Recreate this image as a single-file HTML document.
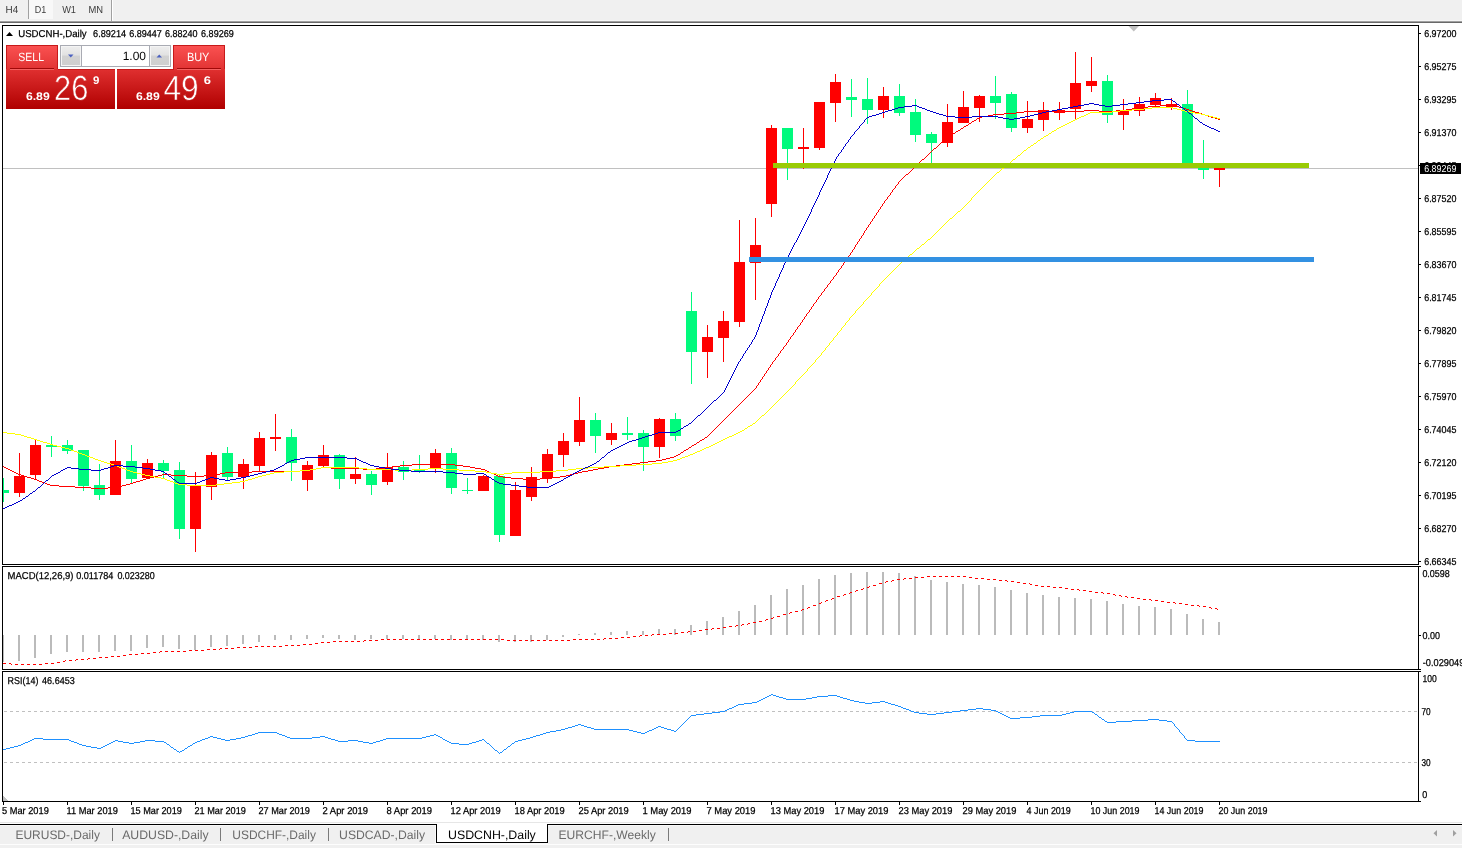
<!DOCTYPE html>
<html lang="en"><head><meta charset="utf-8"><title>USDCNH-,Daily</title>
<style>html,body{margin:0;padding:0;background:#fff;overflow:hidden}body{width:1462px;height:848px}svg text{white-space:pre}</style></head>
<body>
<svg width="1462" height="848" viewBox="0 0 1462 848" style="display:block" text-rendering="geometricPrecision" font-family='"Liberation Sans", "DejaVu Sans", sans-serif'>
<defs><linearGradient id="gtab" x1="0" y1="0" x2="0" y2="1"><stop offset="0" stop-color="#FB5252"/><stop offset="1" stop-color="#E23434"/></linearGradient><linearGradient id="gpan" x1="0" y1="0" x2="0" y2="1"><stop offset="0" stop-color="#E03030"/><stop offset="1" stop-color="#B00000"/></linearGradient><linearGradient id="gbtn" x1="0" y1="0" x2="0" y2="1"><stop offset="0" stop-color="#EDEDED"/><stop offset="0.45" stop-color="#E2E2E2"/><stop offset="0.5" stop-color="#D2D2D2"/><stop offset="1" stop-color="#CFCFCF"/></linearGradient><linearGradient id="gpu" gradientUnits="userSpaceOnUse" x1="0" y1="69" x2="0" y2="109"><stop offset="0" stop-color="#E03030"/><stop offset="1" stop-color="#B00000"/></linearGradient><clipPath id="cm"><rect x="3" y="26" width="1415" height="538"/></clipPath></defs>
<rect x="0" y="0" width="1462" height="848" fill="#ffffff"/>
<g shape-rendering="crispEdges">
<rect x="0" y="0" width="1462" height="20" fill="#f0f0f0"/>
<rect x="0" y="20" width="1462" height="1" fill="#f6f6f6"/>
<rect x="0" y="21" width="1462" height="1" fill="#a0a0a0"/>
<rect x="0" y="22" width="1462" height="1" fill="#696969"/>
<rect x="29" y="0" width="24" height="19" fill="#f8f8f8"/>
<rect x="28" y="0" width="1" height="19" fill="#a0a0a0"/>
<rect x="111" y="0" width="1" height="21" fill="#a0a0a0"/>
<rect x="112" y="0" width="1" height="21" fill="#ffffff"/>
</g>
<text x="5.5" y="13" font-size="10.2" fill="#3c3c3c" textLength="12.7" lengthAdjust="spacingAndGlyphs" >H4</text>
<text x="34.7" y="13" font-size="10.2" fill="#3c3c3c" textLength="11.5" lengthAdjust="spacingAndGlyphs" >D1</text>
<text x="62.2" y="13" font-size="10.2" fill="#3c3c3c" textLength="13.8" lengthAdjust="spacingAndGlyphs" >W1</text>
<text x="88.5" y="13" font-size="10.2" fill="#3c3c3c" textLength="14.6" lengthAdjust="spacingAndGlyphs" >MN</text>
<g shape-rendering="crispEdges" fill="#000">
<rect x="2" y="25" width="1417" height="1"/>
<rect x="2" y="564" width="1417" height="1"/>
<rect x="2" y="25" width="1" height="540"/>
<rect x="1418" y="25" width="1" height="540"/>
<rect x="2" y="566" width="1417" height="1"/>
<rect x="2" y="669" width="1417" height="1"/>
<rect x="2" y="566" width="1" height="104"/>
<rect x="1418" y="566" width="1" height="104"/>
<rect x="2" y="671" width="1417" height="1"/>
<rect x="2" y="801" width="1417" height="1"/>
<rect x="2" y="671" width="1" height="131"/>
<rect x="1418" y="671" width="1" height="131"/>
</g>
<g shape-rendering="crispEdges" clip-path="url(#cm)">
<rect x="3" y="168" width="1415" height="1" fill="#c0c0c0"/>
<rect x="3" y="478" width="1" height="24" fill="#00FA7D"/>
<rect x="-2" y="490" width="11" height="3" fill="#00FA7D"/>
<rect x="19" y="453" width="1" height="44" fill="#FF0000"/>
<rect x="14" y="476" width="11" height="17" fill="#FF0000"/>
<rect x="35" y="440" width="1" height="40" fill="#FF0000"/>
<rect x="30" y="445" width="11" height="30" fill="#FF0000"/>
<rect x="51" y="436" width="1" height="21" fill="#00FA7D"/>
<rect x="46" y="445" width="11" height="2" fill="#00FA7D"/>
<rect x="67" y="440" width="1" height="14" fill="#00FA7D"/>
<rect x="62" y="445" width="11" height="6" fill="#00FA7D"/>
<rect x="83" y="450" width="1" height="41" fill="#00FA7D"/>
<rect x="78" y="450" width="11" height="36" fill="#00FA7D"/>
<rect x="99" y="464" width="1" height="36" fill="#00FA7D"/>
<rect x="94" y="485" width="11" height="10" fill="#00FA7D"/>
<rect x="115" y="440" width="1" height="55" fill="#FF0000"/>
<rect x="110" y="461" width="11" height="34" fill="#FF0000"/>
<rect x="131" y="445" width="1" height="38" fill="#00FA7D"/>
<rect x="126" y="461" width="11" height="18" fill="#00FA7D"/>
<rect x="147" y="459" width="1" height="19" fill="#FF0000"/>
<rect x="142" y="463" width="11" height="15" fill="#FF0000"/>
<rect x="163" y="460" width="1" height="19" fill="#00FA7D"/>
<rect x="158" y="463" width="11" height="8" fill="#00FA7D"/>
<rect x="179" y="462" width="1" height="77" fill="#00FA7D"/>
<rect x="174" y="470" width="11" height="59" fill="#00FA7D"/>
<rect x="195" y="472" width="1" height="80" fill="#FF0000"/>
<rect x="190" y="486" width="11" height="43" fill="#FF0000"/>
<rect x="211" y="452" width="1" height="48" fill="#FF0000"/>
<rect x="206" y="455" width="11" height="32" fill="#FF0000"/>
<rect x="227" y="447" width="1" height="33" fill="#00FA7D"/>
<rect x="222" y="453" width="11" height="24" fill="#00FA7D"/>
<rect x="243" y="459" width="1" height="30" fill="#FF0000"/>
<rect x="238" y="464" width="11" height="13" fill="#FF0000"/>
<rect x="259" y="432" width="1" height="40" fill="#FF0000"/>
<rect x="254" y="438" width="11" height="28" fill="#FF0000"/>
<rect x="275" y="414" width="1" height="37" fill="#FF0000"/>
<rect x="270" y="437" width="11" height="2" fill="#FF0000"/>
<rect x="291" y="429" width="1" height="52" fill="#00FA7D"/>
<rect x="286" y="437" width="11" height="26" fill="#00FA7D"/>
<rect x="307" y="461" width="1" height="30" fill="#FF0000"/>
<rect x="302" y="465" width="11" height="15" fill="#FF0000"/>
<rect x="323" y="445" width="1" height="22" fill="#FF0000"/>
<rect x="318" y="455" width="11" height="11" fill="#FF0000"/>
<rect x="339" y="454" width="1" height="35" fill="#00FA7D"/>
<rect x="334" y="455" width="11" height="24" fill="#00FA7D"/>
<rect x="355" y="457" width="1" height="27" fill="#FF0000"/>
<rect x="350" y="474" width="11" height="5" fill="#FF0000"/>
<rect x="371" y="471" width="1" height="24" fill="#00FA7D"/>
<rect x="366" y="474" width="11" height="11" fill="#00FA7D"/>
<rect x="387" y="453" width="1" height="32" fill="#FF0000"/>
<rect x="382" y="467" width="11" height="15" fill="#FF0000"/>
<rect x="403" y="461" width="1" height="19" fill="#00FA7D"/>
<rect x="398" y="467" width="11" height="5" fill="#00FA7D"/>
<rect x="419" y="455" width="1" height="18" fill="#00FA7D"/>
<rect x="414" y="469" width="11" height="2" fill="#00FA7D"/>
<rect x="435" y="449" width="1" height="24" fill="#FF0000"/>
<rect x="430" y="453" width="11" height="16" fill="#FF0000"/>
<rect x="451" y="448" width="1" height="46" fill="#00FA7D"/>
<rect x="446" y="453" width="11" height="35" fill="#00FA7D"/>
<rect x="467" y="478" width="1" height="16" fill="#00FA7D"/>
<rect x="462" y="490" width="11" height="1" fill="#00FA7D"/>
<rect x="483" y="475" width="1" height="16" fill="#FF0000"/>
<rect x="478" y="476" width="11" height="15" fill="#FF0000"/>
<rect x="499" y="474" width="1" height="68" fill="#00FA7D"/>
<rect x="494" y="476" width="11" height="59" fill="#00FA7D"/>
<rect x="515" y="482" width="1" height="54" fill="#FF0000"/>
<rect x="510" y="490" width="11" height="46" fill="#FF0000"/>
<rect x="531" y="467" width="1" height="34" fill="#FF0000"/>
<rect x="526" y="477" width="11" height="20" fill="#FF0000"/>
<rect x="547" y="449" width="1" height="34" fill="#FF0000"/>
<rect x="542" y="454" width="11" height="24" fill="#FF0000"/>
<rect x="563" y="433" width="1" height="34" fill="#FF0000"/>
<rect x="558" y="441" width="11" height="14" fill="#FF0000"/>
<rect x="579" y="397" width="1" height="49" fill="#FF0000"/>
<rect x="574" y="420" width="11" height="22" fill="#FF0000"/>
<rect x="595" y="413" width="1" height="40" fill="#00FA7D"/>
<rect x="590" y="420" width="11" height="16" fill="#00FA7D"/>
<rect x="611" y="423" width="1" height="22" fill="#FF0000"/>
<rect x="606" y="433" width="11" height="7" fill="#FF0000"/>
<rect x="627" y="417" width="1" height="23" fill="#00FA7D"/>
<rect x="622" y="433" width="11" height="2" fill="#00FA7D"/>
<rect x="643" y="430" width="1" height="41" fill="#00FA7D"/>
<rect x="638" y="433" width="11" height="14" fill="#00FA7D"/>
<rect x="659" y="418" width="1" height="40" fill="#FF0000"/>
<rect x="654" y="419" width="11" height="28" fill="#FF0000"/>
<rect x="675" y="413" width="1" height="28" fill="#00FA7D"/>
<rect x="670" y="419" width="11" height="17" fill="#00FA7D"/>
<rect x="691" y="292" width="1" height="92" fill="#00FA7D"/>
<rect x="686" y="311" width="11" height="41" fill="#00FA7D"/>
<rect x="707" y="325" width="1" height="53" fill="#FF0000"/>
<rect x="702" y="337" width="11" height="15" fill="#FF0000"/>
<rect x="723" y="311" width="1" height="51" fill="#FF0000"/>
<rect x="718" y="321" width="11" height="17" fill="#FF0000"/>
<rect x="739" y="220" width="1" height="107" fill="#FF0000"/>
<rect x="734" y="262" width="11" height="60" fill="#FF0000"/>
<rect x="755" y="218" width="1" height="82" fill="#FF0000"/>
<rect x="750" y="245" width="11" height="18" fill="#FF0000"/>
<rect x="771" y="125" width="1" height="92" fill="#FF0000"/>
<rect x="766" y="128" width="11" height="76" fill="#FF0000"/>
<rect x="787" y="128" width="1" height="52" fill="#00FA7D"/>
<rect x="782" y="128" width="11" height="21" fill="#00FA7D"/>
<rect x="803" y="128" width="1" height="41" fill="#FF0000"/>
<rect x="798" y="147" width="11" height="2" fill="#FF0000"/>
<rect x="819" y="102" width="1" height="48" fill="#FF0000"/>
<rect x="814" y="102" width="11" height="46" fill="#FF0000"/>
<rect x="835" y="74" width="1" height="48" fill="#FF0000"/>
<rect x="830" y="82" width="11" height="21" fill="#FF0000"/>
<rect x="851" y="79" width="1" height="38" fill="#00FA7D"/>
<rect x="846" y="97" width="11" height="3" fill="#00FA7D"/>
<rect x="867" y="78" width="1" height="46" fill="#00FA7D"/>
<rect x="862" y="99" width="11" height="11" fill="#00FA7D"/>
<rect x="883" y="87" width="1" height="31" fill="#FF0000"/>
<rect x="878" y="96" width="11" height="14" fill="#FF0000"/>
<rect x="899" y="84" width="1" height="32" fill="#00FA7D"/>
<rect x="894" y="96" width="11" height="17" fill="#00FA7D"/>
<rect x="915" y="99" width="1" height="43" fill="#00FA7D"/>
<rect x="910" y="112" width="11" height="23" fill="#00FA7D"/>
<rect x="931" y="132" width="1" height="33" fill="#00FA7D"/>
<rect x="926" y="134" width="11" height="9" fill="#00FA7D"/>
<rect x="947" y="104" width="1" height="43" fill="#FF0000"/>
<rect x="942" y="122" width="11" height="21" fill="#FF0000"/>
<rect x="963" y="91" width="1" height="32" fill="#FF0000"/>
<rect x="958" y="107" width="11" height="16" fill="#FF0000"/>
<rect x="979" y="95" width="1" height="27" fill="#FF0000"/>
<rect x="974" y="96" width="11" height="12" fill="#FF0000"/>
<rect x="995" y="76" width="1" height="43" fill="#00FA7D"/>
<rect x="990" y="96" width="11" height="7" fill="#00FA7D"/>
<rect x="1011" y="92" width="1" height="40" fill="#00FA7D"/>
<rect x="1006" y="94" width="11" height="34" fill="#00FA7D"/>
<rect x="1027" y="101" width="1" height="32" fill="#FF0000"/>
<rect x="1022" y="119" width="11" height="9" fill="#FF0000"/>
<rect x="1043" y="102" width="1" height="29" fill="#FF0000"/>
<rect x="1038" y="110" width="11" height="10" fill="#FF0000"/>
<rect x="1059" y="102" width="1" height="18" fill="#FF0000"/>
<rect x="1054" y="110" width="11" height="3" fill="#FF0000"/>
<rect x="1075" y="52" width="1" height="68" fill="#FF0000"/>
<rect x="1070" y="83" width="11" height="26" fill="#FF0000"/>
<rect x="1091" y="57" width="1" height="35" fill="#FF0000"/>
<rect x="1086" y="81" width="11" height="5" fill="#FF0000"/>
<rect x="1107" y="75" width="1" height="48" fill="#00FA7D"/>
<rect x="1102" y="81" width="11" height="34" fill="#00FA7D"/>
<rect x="1123" y="99" width="1" height="31" fill="#FF0000"/>
<rect x="1118" y="110" width="11" height="5" fill="#FF0000"/>
<rect x="1139" y="97" width="1" height="19" fill="#FF0000"/>
<rect x="1134" y="104" width="11" height="7" fill="#FF0000"/>
<rect x="1155" y="93" width="1" height="14" fill="#FF0000"/>
<rect x="1150" y="98" width="11" height="7" fill="#FF0000"/>
<rect x="1171" y="98" width="1" height="12" fill="#FF0000"/>
<rect x="1166" y="104" width="11" height="3" fill="#FF0000"/>
<rect x="1187" y="90" width="1" height="75" fill="#00FA7D"/>
<rect x="1182" y="104" width="11" height="61" fill="#00FA7D"/>
<rect x="1203" y="140" width="1" height="39" fill="#00FA7D"/>
<rect x="1198" y="168" width="11" height="2" fill="#00FA7D"/>
<rect x="1219" y="168" width="1" height="19" fill="#FF0000"/>
<rect x="1214" y="168" width="11" height="2" fill="#FF0000"/>
<path d="M412 464h43v1h-43zM624 464h8v1h-8zM964 126h2v1h-2zM1084 110h15v1h-15zM1116 110h10v1h-10zM1189 110h3v1h-3zM75 487h16v1h-16zM108 487h10v1h-10zM961 128h2v1h-2zM6 468h2v1h-2zM316 468h5v1h-5zM331 468h32v1h-32zM376 468h8v1h-8zM475 468h6v1h-6zM598 468h6v1h-6zM988 115h5v1h-5zM1205 115h3v1h-3zM31 478h3v1h-3zM146 478h4v1h-4zM511 478h12v1h-12zM540 478h12v1h-12zM648 461h8v1h-8zM392 466h8v1h-8zM463 466h7v1h-7zM609 466h7v1h-7zM982 116h6v1h-6zM1208 116h3v1h-3zM632 463h8v1h-8zM59 486h16v1h-16zM118 486h4v1h-4zM678 454h2v1h-2zM702 439h2v1h-2zM39 481h3v1h-3zM136 481h4v1h-4zM91 488h17v1h-17zM1160 105h8v1h-8zM1173 105h3v1h-3zM674 456h2v1h-2zM1132 108h5v1h-5zM1183 108h3v1h-3zM1004 113h12v1h-12zM1199 113h3v1h-3zM24 476h3v1h-3zM154 476h4v1h-4zM187 476h17v1h-17zM498 476h5v1h-5zM560 476h6v1h-6zM8 469h2v1h-2zM310 469h6v1h-6zM363 469h13v1h-13zM481 469h4v1h-4zM593 469h5v1h-5zM12 471h2v1h-2zM252 471h48v1h-48zM487 471h2v1h-2zM582 471h6v1h-6zM47 484h3v1h-3zM126 484h4v1h-4zM400 465h12v1h-12zM455 465h8v1h-8zM616 465h8v1h-8zM14 472h2v1h-2zM225 472h27v1h-27zM489 472h2v1h-2zM578 472h4v1h-4zM1137 107h11v1h-11zM1179 107h4v1h-4zM18 474h3v1h-3zM162 474h9v1h-9zM214 474h6v1h-6zM494 474h2v1h-2zM570 474h4v1h-4zM10 470h2v1h-2zM300 470h10v1h-10zM485 470h2v1h-2zM588 470h5v1h-5zM1016 112h8v1h-8zM1195 112h4v1h-4zM21 475h3v1h-3zM158 475h4v1h-4zM171 475h16v1h-16zM204 475h10v1h-10zM496 475h2v1h-2zM566 475h4v1h-4zM1024 111h60v1h-60zM1099 111h17v1h-17zM1192 111h3v1h-3zM1148 106h12v1h-12zM1176 106h3v1h-3zM27 477h4v1h-4zM150 477h4v1h-4zM503 477h8v1h-8zM552 477h8v1h-8zM662 459h4v1h-4zM1218 119h2v1h-2zM684 450h2v1h-2zM50 485h9v1h-9zM122 485h4v1h-4zM1168 104h5v1h-5zM4 467h2v1h-2zM321 467h10v1h-10zM384 467h8v1h-8zM470 467h5v1h-5zM604 467h5v1h-5zM953 133h2v1h-2zM694 444h2v1h-2zM34 479h3v1h-3zM143 479h3v1h-3zM523 479h17v1h-17zM922 159h2v1h-2zM640 462h8v1h-8zM1126 109h6v1h-6zM1186 109h3v1h-3zM977 118h2v1h-2zM1215 118h3v1h-3zM16 473h2v1h-2zM220 473h5v1h-5zM491 473h3v1h-3zM574 473h4v1h-4zM700 440h2v1h-2zM972 121h2v1h-2zM993 114h11v1h-11zM1202 114h3v1h-3zM979 117h3v1h-3zM1211 117h4v1h-4zM42 482h3v1h-3zM133 482h3v1h-3zM934 148h2v1h-2zM697 442h2v1h-2zM969 123h2v1h-2zM942 141h2v1h-2zM692 445h2v1h-2zM676 455h2v1h-2zM670 457h4v1h-4zM656 460h6v1h-6zM705 437h2v1h-2zM948 136h2v1h-2zM689 447h2v1h-2zM974 120h2v1h-2zM45 483h2v1h-2zM130 483h3v1h-3zM958 130h2v1h-2zM681 452h2v1h-2zM37 480h2v1h-2zM140 480h3v1h-3zM906 174h2v1h-2zM966 125h2v1h-2zM950 135h2v1h-2zM666 458h4v1h-4zM956 131h2v1h-2zM686 449h2v1h-2zM815 302h1v1h-1zM3 466h1v1h-1zM744 399h1v1h-1zM760 380h1v2h-1zM808 312h1v1h-1zM756 386h1v2h-1zM946 138h1v1h-1zM898 182h1v2h-1zM799 325h1v1h-1zM937 146h1v1h-1zM704 438h1v1h-1zM944 140h1v1h-1zM802 320h1v2h-1zM968 124h1v1h-1zM976 119h1v1h-1zM850 253h1v2h-1zM882 204h1v2h-1zM877 212h1v1h-1zM778 354h1v2h-1zM952 134h1v1h-1zM909 172h1v1h-1zM841 266h1v2h-1zM925 157h1v1h-1zM786 343h1v2h-1zM781 350h1v1h-1zM916 165h1v1h-1zM876 213h1v2h-1zM722 421h1v1h-1zM932 150h1v1h-1zM820 295h1v1h-1zM691 446h1v1h-1zM729 414h1v1h-1zM939 144h1v1h-1zM813 304h1v2h-1zM828 284h1v1h-1zM930 152h1v1h-1zM761 379h1v1h-1zM856 244h1v1h-1zM736 407h1v1h-1zM804 317h1v2h-1zM748 395h1v1h-1zM764 374h1v2h-1zM859 239h1v2h-1zM807 313h1v1h-1zM755 388h1v1h-1zM855 245h1v2h-1zM902 178h1v1h-1zM887 197h1v2h-1zM945 139h1v1h-1zM709 434h1v1h-1zM846 259h1v1h-1zM890 193h1v2h-1zM791 336h1v1h-1zM885 200h1v1h-1zM716 427h1v1h-1zM854 247h1v2h-1zM782 349h1v1h-1zM830 281h1v2h-1zM845 260h1v2h-1zM825 288h1v1h-1zM735 408h1v1h-1zM924 158h1v1h-1zM770 365h1v2h-1zM818 297h1v2h-1zM865 230h1v1h-1zM833 277h1v2h-1zM766 371h1v2h-1zM861 236h1v2h-1zM742 401h1v1h-1zM824 289h1v2h-1zM938 145h1v1h-1zM864 231h1v2h-1zM749 394h1v1h-1zM797 327h1v2h-1zM812 306h1v1h-1zM803 319h1v1h-1zM903 177h1v1h-1zM851 252h1v1h-1zM895 186h1v2h-1zM796 329h1v1h-1zM910 171h1v1h-1zM886 199h1v1h-1zM787 342h1v1h-1zM835 275h1v1h-1zM917 164h1v1h-1zM708 435h1v1h-1zM914 167h1v1h-1zM775 358h1v2h-1zM823 291h1v1h-1zM838 270h1v2h-1zM715 428h1v1h-1zM870 222h1v2h-1zM921 160h1v1h-1zM727 416h1v1h-1zM960 129h1v1h-1zM829 283h1v1h-1zM873 218h1v1h-1zM774 360h1v1h-1zM769 367h1v1h-1zM734 409h1v1h-1zM817 299h1v1h-1zM765 373h1v1h-1zM860 238h1v1h-1zM741 402h1v1h-1zM699 441h1v1h-1zM801 322h1v1h-1zM683 451h1v1h-1zM891 192h1v1h-1zM792 335h1v1h-1zM714 429h1v1h-1zM780 351h1v2h-1zM795 330h1v2h-1zM843 263h1v2h-1zM875 215h1v1h-1zM721 422h1v1h-1zM771 364h1v1h-1zM834 276h1v1h-1zM728 415h1v1h-1zM878 210h1v2h-1zM779 353h1v1h-1zM929 153h1v1h-1zM874 216h1v2h-1zM822 292h1v1h-1zM869 224h1v1h-1zM936 147h1v1h-1zM747 396h1v1h-1zM806 314h1v2h-1zM821 293h1v2h-1zM754 389h1v1h-1zM901 179h1v1h-1zM896 185h1v1h-1zM680 453h1v1h-1zM884 201h1v2h-1zM800 323h1v2h-1zM848 256h1v2h-1zM915 166h1v1h-1zM880 207h1v2h-1zM839 269h1v1h-1zM713 430h1v1h-1zM883 203h1v1h-1zM784 346h1v1h-1zM847 258h1v1h-1zM827 285h1v2h-1zM720 423h1v1h-1zM826 287h1v1h-1zM811 307h1v2h-1zM739 404h1v1h-1zM928 154h1v1h-1zM759 382h1v1h-1zM814 303h1v1h-1zM746 397h1v1h-1zM762 377h1v2h-1zM758 383h1v2h-1zM805 316h1v1h-1zM753 390h1v1h-1zM900 180h1v1h-1zM849 255h1v1h-1zM844 262h1v1h-1zM707 436h1v1h-1zM888 196h1v1h-1zM789 339h1v1h-1zM852 250h1v2h-1zM879 209h1v1h-1zM726 417h1v1h-1zM911 170h1v1h-1zM927 155h1v1h-1zM788 340h1v2h-1zM712 431h1v1h-1zM768 368h1v2h-1zM733 410h1v1h-1zM783 347h1v2h-1zM918 163h1v1h-1zM831 280h1v1h-1zM816 300h1v2h-1zM719 424h1v1h-1zM740 403h1v1h-1zM819 296h1v1h-1zM731 412h1v1h-1zM752 391h1v1h-1zM767 370h1v1h-1zM810 309h1v1h-1zM738 405h1v1h-1zM858 241h1v1h-1zM963 127h1v1h-1zM893 189h1v1h-1zM794 332h1v1h-1zM809 310h1v2h-1zM908 173h1v1h-1zM947 137h1v1h-1zM757 385h1v1h-1zM857 242h1v2h-1zM790 337h1v2h-1zM899 181h1v1h-1zM785 345h1v1h-1zM688 448h1v1h-1zM892 190h1v2h-1zM912 169h1v1h-1zM793 333h1v2h-1zM773 361h1v1h-1zM718 425h1v1h-1zM868 225h1v2h-1zM832 279h1v1h-1zM725 418h1v1h-1zM926 156h1v1h-1zM772 362h1v2h-1zM732 411h1v1h-1zM867 227h1v1h-1zM763 376h1v1h-1zM863 233h1v2h-1zM933 149h1v1h-1zM696 443h1v1h-1zM940 143h1v1h-1zM751 392h1v1h-1zM866 228h1v2h-1zM889 195h1v1h-1zM905 175h1v1h-1zM853 249h1v1h-1zM897 184h1v1h-1zM919 162h1v1h-1zM837 272h1v1h-1zM710 433h1v1h-1zM777 356h1v1h-1zM840 268h1v1h-1zM717 426h1v1h-1zM872 219h1v2h-1zM836 273h1v2h-1zM724 419h1v1h-1zM745 398h1v1h-1zM941 142h1v1h-1zM894 188h1v1h-1zM862 235h1v1h-1zM743 400h1v1h-1zM750 393h1v1h-1zM798 326h1v1h-1zM913 168h1v1h-1zM842 265h1v1h-1zM904 176h1v1h-1zM971 122h1v1h-1zM920 161h1v1h-1zM881 206h1v1h-1zM711 432h1v1h-1zM955 132h1v1h-1zM723 420h1v1h-1zM730 413h1v1h-1zM776 357h1v1h-1zM931 151h1v1h-1zM871 221h1v1h-1zM737 406h1v1h-1z" fill="#FF0000"/>
<path d="M165 479h2v1h-2zM248 479h4v1h-4zM125 469h2v1h-2zM310 469h6v1h-6zM367 469h28v1h-28zM412 469h16v1h-16zM443 469h16v1h-16zM568 469h8v1h-8zM122 468h3v1h-3zM316 468h5v1h-5zM359 468h8v1h-8zM428 468h15v1h-15zM576 468h12v1h-12zM1112 111h8v1h-8zM1185 111h5v1h-5zM7 433h8v1h-8zM736 433h2v1h-2zM127 470h3v1h-3zM300 470h10v1h-10zM395 470h17v1h-17zM459 470h16v1h-16zM556 470h12v1h-12zM1084 115h2v1h-2zM1205 115h4v1h-4zM173 482h2v1h-2zM232 482h8v1h-8zM187 485h29v1h-29zM61 447h4v1h-4zM706 447h3v1h-3zM117 466h2v1h-2zM604 466h16v1h-16zM133 472h4v1h-4zM274 472h10v1h-10zM486 472h5v1h-5zM512 472h28v1h-28zM997 172h2v1h-2zM47 443h3v1h-3zM715 443h2v1h-2zM1067 123h2v1h-2zM111 464h3v1h-3zM636 464h16v1h-16zM119 467h3v1h-3zM321 467h38v1h-38zM588 467h16v1h-16zM130 471h3v1h-3zM284 471h16v1h-16zM475 471h11v1h-11zM540 471h16v1h-16zM155 477h6v1h-6zM255 477h3v1h-3zM1152 107h21v1h-21zM1120 110h12v1h-12zM1181 110h4v1h-4zM15 434h6v1h-6zM734 434h2v1h-2zM902 261h2v1h-2zM79 453h3v1h-3zM693 453h2v1h-2zM40 441h3v1h-3zM719 441h2v1h-2zM71 450h3v1h-3zM700 450h2v1h-2zM145 475h5v1h-5zM262 475h4v1h-4zM74 451h3v1h-3zM697 451h3v1h-3zM1090 112h22v1h-22zM1190 112h5v1h-5zM3 432h4v1h-4zM738 432h2v1h-2zM762 415h2v1h-2zM50 444h3v1h-3zM713 444h2v1h-2zM1069 122h2v1h-2zM170 481h3v1h-3zM240 481h5v1h-5zM1088 113h2v1h-2zM1195 113h6v1h-6zM161 478h4v1h-4zM252 478h3v1h-3zM1031 145h2v1h-2zM82 454h3v1h-3zM690 454h3v1h-3zM1081 116h3v1h-3zM1209 116h4v1h-4zM107 463h4v1h-4zM652 463h10v1h-10zM740 431h2v1h-2zM137 473h4v1h-4zM270 473h4v1h-4zM491 473h6v1h-6zM504 473h8v1h-8zM1144 108h8v1h-8zM1173 108h4v1h-4zM93 458h2v1h-2zM680 458h2v1h-2zM150 476h5v1h-5zM258 476h4v1h-4zM1061 126h2v1h-2zM114 465h3v1h-3zM620 465h16v1h-16zM1057 128h2v1h-2zM90 457h3v1h-3zM682 457h3v1h-3zM95 459h3v1h-3zM677 459h3v1h-3zM1018 155h2v1h-2zM21 435h3v1h-3zM732 435h2v1h-2zM1041 138h2v1h-2zM178 484h9v1h-9zM216 484h8v1h-8zM37 440h3v1h-3zM721 440h2v1h-2zM104 462h3v1h-3zM662 462h6v1h-6zM141 474h4v1h-4zM266 474h4v1h-4zM497 474h7v1h-7zM167 480h3v1h-3zM245 480h3v1h-3zM1024 150h2v1h-2zM950 218h2v1h-2zM1132 109h12v1h-12zM1177 109h4v1h-4zM43 442h4v1h-4zM717 442h2v1h-2zM27 437h4v1h-4zM727 437h2v1h-2zM1077 118h2v1h-2zM1217 118h3v1h-3zM922 244h2v1h-2zM1086 114h2v1h-2zM1201 114h4v1h-4zM65 448h4v1h-4zM704 448h2v1h-2zM69 449h2v1h-2zM702 449h2v1h-2zM24 436h3v1h-3zM729 436h3v1h-3zM1038 140h2v1h-2zM1065 124h2v1h-2zM101 461h3v1h-3zM668 461h5v1h-5zM928 239h2v1h-2zM1049 133h2v1h-2zM31 438h3v1h-3zM725 438h2v1h-2zM85 455h2v1h-2zM688 455h2v1h-2zM57 446h4v1h-4zM709 446h2v1h-2zM1059 127h2v1h-2zM77 452h2v1h-2zM695 452h2v1h-2zM53 445h4v1h-4zM711 445h2v1h-2zM917 248h2v1h-2zM1046 135h2v1h-2zM1002 168h2v1h-2zM87 456h3v1h-3zM685 456h3v1h-3zM175 483h3v1h-3zM224 483h8v1h-8zM1075 119h2v1h-2zM910 254h2v1h-2zM34 439h3v1h-3zM723 439h2v1h-2zM98 460h3v1h-3zM673 460h4v1h-4zM1008 163h2v1h-2zM745 428h2v1h-2zM1052 131h2v1h-2zM1071 121h2v1h-2zM742 430h2v1h-2zM1013 159h2v1h-2zM753 423h2v1h-2zM1054 130h2v1h-2zM1044 136h2v1h-2zM750 425h2v1h-2zM1073 120h2v1h-2zM1063 125h2v1h-2zM1079 117h2v1h-2zM1213 117h4v1h-4zM1028 147h2v1h-2zM1034 143h2v1h-2zM958 211h2v1h-2zM748 426h2v1h-2zM991 178h1v1h-1zM982 187h1v1h-1zM901 262h1v1h-1zM821 353h1v2h-1zM1020 154h1v1h-1zM758 419h1v1h-1zM755 422h1v1h-1zM989 180h1v1h-1zM771 407h1v1h-1zM1051 132h1v1h-1zM778 400h1v1h-1zM907 257h1v1h-1zM769 409h1v1h-1zM1004 167h1v1h-1zM856 310h1v1h-1zM914 251h1v1h-1zM957 212h1v1h-1zM776 402h1v1h-1zM851 316h1v1h-1zM1011 161h1v1h-1zM925 242h1v1h-1zM863 302h1v2h-1zM964 206h1v1h-1zM783 395h1v1h-1zM855 311h1v2h-1zM976 193h1v1h-1zM795 382h1v2h-1zM815 360h1v2h-1zM971 198h1v2h-1zM831 341h1v1h-1zM826 347h1v1h-1zM807 369h1v2h-1zM983 186h1v1h-1zM936 232h1v1h-1zM893 270h1v1h-1zM943 225h1v1h-1zM900 263h1v1h-1zM1036 142h1v1h-1zM770 408h1v1h-1zM1001 169h1v1h-1zM797 380h1v1h-1zM1012 160h1v1h-1zM844 325h1v1h-1zM789 389h1v1h-1zM880 283h1v1h-1zM804 373h1v1h-1zM875 289h1v1h-1zM867 298h1v1h-1zM887 276h1v1h-1zM832 340h1v1h-1zM862 304h1v1h-1zM819 356h1v1h-1zM854 313h1v1h-1zM975 194h1v1h-1zM756 421h1v1h-1zM814 362h1v1h-1zM996 173h1v1h-1zM885 278h1v1h-1zM935 233h1v1h-1zM892 271h1v1h-1zM994 175h1v1h-1zM908 256h1v1h-1zM899 264h1v1h-1zM955 214h1v1h-1zM747 427h1v1h-1zM790 388h1v1h-1zM781 397h1v1h-1zM977 192h1v1h-1zM1043 137h1v1h-1zM837 333h1v2h-1zM848 320h1v1h-1zM969 201h1v1h-1zM843 326h1v1h-1zM788 390h1v1h-1zM808 368h1v1h-1zM879 284h1v2h-1zM981 188h1v1h-1zM874 290h1v1h-1zM800 377h1v1h-1zM820 355h1v1h-1zM871 293h1v2h-1zM866 299h1v1h-1zM886 277h1v1h-1zM988 181h1v1h-1zM1026 149h1v1h-1zM898 265h1v1h-1zM878 286h1v1h-1zM995 174h1v1h-1zM948 220h1v1h-1zM768 410h1v1h-1zM913 252h1v1h-1zM775 403h1v1h-1zM1010 162h1v1h-1zM1056 129h1v1h-1zM904 260h1v1h-1zM782 396h1v1h-1zM1040 139h1v1h-1zM954 215h1v1h-1zM868 297h1v1h-1zM794 384h1v1h-1zM849 318h1v2h-1zM970 200h1v1h-1zM865 300h1v1h-1zM860 306h1v1h-1zM961 209h1v1h-1zM825 348h1v2h-1zM852 315h1v1h-1zM973 196h1v1h-1zM1016 157h1v1h-1zM847 321h1v1h-1zM968 202h1v1h-1zM926 241h1v1h-1zM1023 151h1v1h-1zM980 189h1v1h-1zM824 350h1v1h-1zM890 273h1v1h-1zM906 258h1v1h-1zM987 182h1v1h-1zM940 228h1v1h-1zM897 266h1v1h-1zM947 221h1v1h-1zM1033 144h1v1h-1zM1007 164h1v1h-1zM944 224h1v1h-1zM767 411h1v1h-1zM912 253h1v1h-1zM774 404h1v1h-1zM919 247h1v1h-1zM861 305h1v1h-1zM962 208h1v1h-1zM801 376h1v1h-1zM872 292h1v1h-1zM798 379h1v1h-1zM818 357h1v1h-1zM853 314h1v1h-1zM974 195h1v1h-1zM793 385h1v1h-1zM813 363h1v1h-1zM864 301h1v1h-1zM884 279h1v1h-1zM829 343h1v2h-1zM986 183h1v1h-1zM859 307h1v1h-1zM840 330h1v1h-1zM805 372h1v1h-1zM934 234h1v1h-1zM891 272h1v1h-1zM993 176h1v1h-1zM941 227h1v1h-1zM760 417h1v1h-1zM905 259h1v1h-1zM773 405h1v1h-1zM1030 146h1v1h-1zM999 171h1v1h-1zM780 398h1v1h-1zM952 217h1v1h-1zM909 255h1v1h-1zM1006 165h1v1h-1zM842 327h1v1h-1zM787 391h1v1h-1zM744 429h1v1h-1zM920 246h1v1h-1zM1017 156h1v1h-1zM927 240h1v1h-1zM752 424h1v1h-1zM1048 134h1v1h-1zM841 328h1v2h-1zM836 335h1v1h-1zM817 358h1v1h-1zM812 364h1v1h-1zM883 280h1v1h-1zM809 367h1v1h-1zM985 184h1v1h-1zM761 416h1v1h-1zM933 235h1v1h-1zM992 177h1v1h-1zM930 238h1v1h-1zM1027 148h1v1h-1zM937 231h1v1h-1zM953 216h1v1h-1zM772 406h1v1h-1zM960 210h1v1h-1zM779 399h1v1h-1zM835 336h1v1h-1zM1037 141h1v1h-1zM972 197h1v1h-1zM830 342h1v1h-1zM846 322h1v1h-1zM967 203h1v1h-1zM806 371h1v1h-1zM786 392h1v1h-1zM877 287h1v1h-1zM1022 152h1v1h-1zM979 190h1v1h-1zM869 296h1v1h-1zM889 274h1v1h-1zM845 323h1v2h-1zM939 229h1v1h-1zM896 267h1v1h-1zM946 222h1v1h-1zM766 412h1v1h-1zM1000 170h1v1h-1zM757 420h1v1h-1zM764 414h1v1h-1zM785 393h1v1h-1zM1015 158h1v1h-1zM792 386h1v1h-1zM823 351h1v1h-1zM858 308h1v1h-1zM916 249h1v1h-1zM839 331h1v1h-1zM834 337h1v1h-1zM850 317h1v1h-1zM870 295h1v1h-1zM810 366h1v1h-1zM966 204h1v1h-1zM881 282h1v1h-1zM924 243h1v1h-1zM963 207h1v1h-1zM876 288h1v1h-1zM802 375h1v1h-1zM1021 153h1v1h-1zM978 191h1v1h-1zM873 291h1v1h-1zM759 418h1v1h-1zM931 237h1v1h-1zM888 275h1v1h-1zM833 338h1v2h-1zM990 179h1v1h-1zM828 345h1v1h-1zM938 230h1v1h-1zM895 268h1v1h-1zM945 223h1v1h-1zM1005 166h1v1h-1zM942 226h1v1h-1zM765 413h1v1h-1zM915 250h1v1h-1zM777 401h1v1h-1zM949 219h1v1h-1zM965 205h1v1h-1zM784 394h1v1h-1zM956 213h1v1h-1zM799 378h1v1h-1zM796 381h1v1h-1zM816 359h1v1h-1zM791 387h1v1h-1zM811 365h1v1h-1zM827 346h1v1h-1zM882 281h1v1h-1zM822 352h1v1h-1zM984 185h1v1h-1zM921 245h1v1h-1zM857 309h1v1h-1zM838 332h1v1h-1zM803 374h1v1h-1zM894 269h1v1h-1zM932 236h1v1h-1z" fill="#FFFF00"/>
<path d="M16 502h2v1h-2zM698 415h2v1h-2zM56 473h2v1h-2zM165 473h2v1h-2zM258 473h4v1h-4zM455 473h8v1h-8zM476 473h8v1h-8zM573 473h2v1h-2zM65 468h2v1h-2zM71 468h8v1h-8zM104 468h4v1h-4zM143 468h7v1h-7zM276 468h2v1h-2zM385 468h6v1h-6zM583 468h2v1h-2zM912 105h5v1h-5zM1078 105h6v1h-6zM1099 105h6v1h-6zM1112 105h8v1h-8zM714 400h2v1h-2zM876 114h3v1h-3zM939 114h4v1h-4zM1034 114h4v1h-4zM300 458h5v1h-5zM347 458h10v1h-10zM61 470h2v1h-2zM91 470h10v1h-10zM155 470h6v1h-6zM270 470h4v1h-4zM399 470h12v1h-12zM579 470h2v1h-2zM872 115h4v1h-4zM943 115h3v1h-3zM1030 115h4v1h-4zM625 443h2v1h-2zM869 116h3v1h-3zM946 116h9v1h-9zM972 116h26v1h-26zM1025 116h5v1h-5zM179 483h18v1h-18zM499 483h4v1h-4zM555 483h2v1h-2zM210 477h4v1h-4zM241 477h5v1h-5zM489 477h2v1h-2zM566 477h2v1h-2zM879 113h3v1h-3zM936 113h3v1h-3zM1038 113h4v1h-4zM1189 113h2v1h-2zM1084 104h5v1h-5zM1094 104h5v1h-5zM1120 104h8v1h-8zM1177 104h2v1h-2zM1200 122h2v1h-2zM1164 99h8v1h-8zM38 487h2v1h-2zM527 487h22v1h-22zM67 467h4v1h-4zM108 467h3v1h-3zM135 467h8v1h-8zM278 467h2v1h-2zM379 467h6v1h-6zM585 467h3v1h-3zM18 501h2v1h-2zM1009 119h5v1h-5zM898 107h6v1h-6zM919 107h3v1h-3zM1068 107h5v1h-5zM1181 107h2v1h-2zM58 472h2v1h-2zM262 472h4v1h-4zM443 472h12v1h-12zM575 472h2v1h-2zM7 506h2v1h-2zM888 110h4v1h-4zM927 110h3v1h-3zM1052 110h5v1h-5zM1185 110h2v1h-2zM173 479h2v1h-2zM205 479h3v1h-3zM219 479h6v1h-6zM230 479h6v1h-6zM492 479h2v1h-2zM1136 102h8v1h-8zM305 457h42v1h-42zM602 457h2v1h-2zM1003 118h6v1h-6zM1014 118h6v1h-6zM1195 118h2v1h-2zM289 461h2v1h-2zM361 461h2v1h-2zM597 461h2v1h-2zM26 496h2v1h-2zM617 447h2v1h-2zM54 474h2v1h-2zM254 474h4v1h-4zM463 474h13v1h-13zM484 474h2v1h-2zM613 449h2v1h-2zM519 486h8v1h-8zM549 486h2v1h-2zM503 484h8v1h-8zM553 484h2v1h-2zM9 505h3v1h-3zM1144 101h8v1h-8zM1173 101h2v1h-2zM1089 103h5v1h-5zM1128 103h8v1h-8zM645 436h3v1h-3zM208 478h2v1h-2zM214 478h5v1h-5zM236 478h5v1h-5zM564 478h2v1h-2zM615 448h2v1h-2zM904 106h8v1h-8zM917 106h2v1h-2zM1073 106h5v1h-5zM1105 106h7v1h-7zM867 117h2v1h-2zM955 117h17v1h-17zM998 117h5v1h-5zM1020 117h5v1h-5zM632 440h4v1h-4zM63 469h2v1h-2zM79 469h12v1h-12zM101 469h3v1h-3zM150 469h5v1h-5zM274 469h2v1h-2zM391 469h8v1h-8zM581 469h2v1h-2zM1211 128h3v1h-3zM294 459h6v1h-6zM357 459h2v1h-2zM161 471h3v1h-3zM266 471h4v1h-4zM411 471h32v1h-32zM577 471h2v1h-2zM1205 125h2v1h-2zM885 111h3v1h-3zM930 111h3v1h-3zM1046 111h6v1h-6zM676 431h2v1h-2zM636 439h3v1h-3zM46 480h2v1h-2zM202 480h3v1h-3zM225 480h5v1h-5zM561 480h2v1h-2zM111 466h3v1h-3zM123 466h12v1h-12zM280 466h2v1h-2zM374 466h5v1h-5zM588 466h2v1h-2zM621 445h2v1h-2zM169 476h2v1h-2zM246 476h4v1h-4zM487 476h2v1h-2zM568 476h2v1h-2zM895 108h3v1h-3zM922 108h3v1h-3zM1062 108h6v1h-6zM655 433h3v1h-3zM892 109h3v1h-3zM925 109h2v1h-2zM1057 109h5v1h-5zM658 432h18v1h-18zM1203 124h2v1h-2zM1152 100h12v1h-12zM33 491h2v1h-2zM177 482h2v1h-2zM197 482h3v1h-3zM497 482h2v1h-2zM557 482h2v1h-2zM689 423h2v1h-2zM511 485h8v1h-8zM551 485h2v1h-2zM291 460h3v1h-3zM359 460h2v1h-2zM1209 127h2v1h-2zM623 444h2v1h-2zM200 481h2v1h-2zM495 481h2v1h-2zM559 481h2v1h-2zM882 112h3v1h-3zM933 112h3v1h-3zM1042 112h4v1h-4zM1216 130h2v1h-2zM1207 126h2v1h-2zM114 465h9v1h-9zM282 465h2v1h-2zM370 465h4v1h-4zM590 465h2v1h-2zM287 462h2v1h-2zM363 462h3v1h-3zM285 463h2v1h-2zM366 463h2v1h-2zM594 463h2v1h-2zM52 475h2v1h-2zM250 475h4v1h-4zM570 475h2v1h-2zM681 428h2v1h-2zM642 437h3v1h-3zM368 464h2v1h-2zM592 464h2v1h-2zM3 508h2v1h-2zM23 498h2v1h-2zM678 430h2v1h-2zM627 442h2v1h-2zM5 507h2v1h-2zM639 438h3v1h-3zM629 441h3v1h-3zM12 504h2v1h-2zM30 493h2v1h-2zM686 425h2v1h-2zM14 503h2v1h-2zM648 435h4v1h-4zM652 434h3v1h-3zM20 500h2v1h-2zM611 450h2v1h-2zM619 446h2v1h-2zM1214 129h2v1h-2zM608 452h2v1h-2zM1218 131h2v1h-2zM684 426h2v1h-2zM770 295h1v3h-1zM1179 105h1v1h-1zM782 268h1v2h-1zM1191 114h1v1h-1zM847 142h1v1h-1zM601 458h1v1h-1zM1192 115h1v1h-1zM1193 116h1v1h-1zM43 483h1v1h-1zM50 477h1v1h-1zM171 477h1v1h-1zM726 386h1v2h-1zM863 122h1v1h-1zM838 154h1v2h-1zM865 119h1v1h-1zM1197 119h1v1h-1zM761 319h1v3h-1zM834 161h1v2h-1zM769 298h1v2h-1zM793 245h1v2h-1zM164 472h1v1h-1zM806 220h1v2h-1zM818 195h1v2h-1zM830 169h1v2h-1zM48 479h1v1h-1zM563 479h1v1h-1zM777 279h1v2h-1zM1175 102h1v1h-1zM789 253h1v2h-1zM866 118h1v1h-1zM725 388h1v2h-1zM167 474h1v1h-1zM572 474h1v1h-1zM720 395h1v1h-1zM40 486h1v1h-1zM42 484h1v1h-1zM833 163h1v2h-1zM805 222h1v2h-1zM817 197h1v2h-1zM829 171h1v2h-1zM776 281h1v2h-1zM788 255h1v2h-1zM1176 103h1v1h-1zM801 230h1v2h-1zM49 478h1v1h-1zM172 478h1v1h-1zM491 478h1v1h-1zM724 390h1v2h-1zM1180 106h1v1h-1zM773 288h1v2h-1zM1194 117h1v1h-1zM849 139h1v1h-1zM692 421h1v1h-1zM844 146h1v1h-1zM858 128h1v1h-1zM600 459h1v1h-1zM60 471h1v1h-1zM756 332h1v3h-1zM828 173h1v2h-1zM860 125h1v1h-1zM1187 111h1v1h-1zM763 314h1v2h-1zM800 232h1v2h-1zM752 340h1v2h-1zM175 480h1v1h-1zM494 480h1v1h-1zM852 135h1v1h-1zM730 378h1v2h-1zM780 272h1v2h-1zM843 147h1v2h-1zM51 476h1v1h-1zM1183 108h1v1h-1zM762 316h1v3h-1zM729 380h1v2h-1zM710 404h1v1h-1zM742 356h1v2h-1zM1184 109h1v1h-1zM778 277h1v2h-1zM790 251h1v2h-1zM683 427h1v1h-1zM809 214h1v2h-1zM821 188h1v2h-1zM861 124h1v1h-1zM741 358h1v1h-1zM737 364h1v2h-1zM785 261h1v2h-1zM1172 100h1v1h-1zM733 372h1v2h-1zM44 482h1v1h-1zM864 120h1v2h-1zM1199 121h1v1h-1zM813 205h1v2h-1zM825 180h1v2h-1zM700 414h1v1h-1zM772 290h1v2h-1zM784 263h1v2h-1zM41 485h1v1h-1zM853 134h1v1h-1zM797 238h1v2h-1zM848 140h1v2h-1zM691 422h1v1h-1zM599 460h1v1h-1zM859 126h1v2h-1zM755 335h1v2h-1zM707 407h1v1h-1zM704 410h1v1h-1zM751 342h1v2h-1zM812 207h1v2h-1zM824 182h1v2h-1zM783 265h1v3h-1zM747 348h1v2h-1zM45 481h1v1h-1zM176 481h1v1h-1zM1188 112h1v1h-1zM711 403h1v1h-1zM856 130h1v1h-1zM596 462h1v1h-1zM750 344h1v1h-1zM718 397h1v1h-1zM819 192h1v3h-1zM168 475h1v1h-1zM486 475h1v1h-1zM766 306h1v2h-1zM765 308h1v3h-1zM736 366h1v2h-1zM697 416h1v1h-1zM1198 120h1v1h-1zM764 311h1v3h-1zM837 156h1v1h-1zM796 240h1v2h-1zM607 453h1v1h-1zM731 376h1v2h-1zM604 456h1v1h-1zM792 247h1v2h-1zM862 123h1v1h-1zM1202 123h1v1h-1zM840 152h1v1h-1zM703 411h1v1h-1zM284 464h1v1h-1zM836 157h1v2h-1zM746 350h1v1h-1zM795 242h1v1h-1zM759 324h1v3h-1zM820 190h1v2h-1zM832 165h1v2h-1zM779 274h1v3h-1zM791 249h1v2h-1zM717 398h1v1h-1zM758 327h1v3h-1zM831 167h1v2h-1zM827 175h1v3h-1zM842 149h1v1h-1zM696 417h1v1h-1zM37 488h1v1h-1zM732 374h1v2h-1zM845 144h1v2h-1zM728 382h1v2h-1zM841 150h1v2h-1zM808 216h1v2h-1zM768 300h1v3h-1zM727 384h1v2h-1zM723 392h1v1h-1zM610 451h1v1h-1zM807 218h1v2h-1zM32 492h1v1h-1zM775 283h1v3h-1zM787 257h1v2h-1zM802 228h1v2h-1zM850 137h1v2h-1zM605 455h1v1h-1zM701 413h1v1h-1zM708 406h1v1h-1zM680 429h1v1h-1zM743 354h1v2h-1zM804 224h1v2h-1zM29 494h1v1h-1zM816 199h1v2h-1zM739 361h1v1h-1zM722 393h1v1h-1zM735 368h1v2h-1zM803 226h1v2h-1zM815 201h1v2h-1zM738 362h1v2h-1zM786 259h1v2h-1zM799 234h1v2h-1zM734 370h1v2h-1zM846 143h1v1h-1zM757 330h1v2h-1zM857 129h1v1h-1zM814 203h1v2h-1zM826 178h1v2h-1zM854 132h1v2h-1zM798 236h1v2h-1zM794 243h1v2h-1zM745 351h1v2h-1zM22 499h1v1h-1zM748 347h1v1h-1zM716 399h1v1h-1zM744 353h1v1h-1zM740 359h1v2h-1zM767 303h1v3h-1zM28 495h1v1h-1zM851 136h1v1h-1zM771 292h1v3h-1zM695 418h1v1h-1zM36 489h1v1h-1zM855 131h1v1h-1zM754 337h1v2h-1zM702 412h1v1h-1zM774 286h1v2h-1zM823 184h1v2h-1zM835 159h1v2h-1zM811 209h1v3h-1zM693 420h1v1h-1zM709 405h1v1h-1zM706 408h1v1h-1zM753 339h1v1h-1zM749 345h1v2h-1zM810 212h1v2h-1zM822 186h1v2h-1zM781 270h1v2h-1zM713 401h1v1h-1zM760 322h1v2h-1zM688 424h1v1h-1zM25 497h1v1h-1zM719 396h1v1h-1zM694 419h1v1h-1zM35 490h1v1h-1zM606 454h1v1h-1zM705 409h1v1h-1zM721 394h1v1h-1zM712 402h1v1h-1zM839 153h1v1h-1z" fill="#0000CD"/>
<rect x="773" y="163" width="536" height="5" fill="#99CB05"/>
<rect x="749" y="257" width="565" height="5" fill="#3391E2"/>
<polygon points="1128.5,26 1139,26 1133.75,31.5" fill="#c0c0c0" shape-rendering="auto"/>
</g>
<polygon points="6,36 13,36 9.5,32" fill="#000"/>
<text x="18.2" y="37.3" font-size="10.0" fill="#000" textLength="68.5" lengthAdjust="spacingAndGlyphs" stroke="#000" stroke-width="0.25">USDCNH-,Daily</text>
<text x="93.1" y="37.3" font-size="10.0" fill="#000" textLength="33" lengthAdjust="spacingAndGlyphs" stroke="#000" stroke-width="0.25">6.89214</text>
<text x="129.2" y="37.3" font-size="10.0" fill="#000" textLength="32.6" lengthAdjust="spacingAndGlyphs" stroke="#000" stroke-width="0.25">6.89447</text>
<text x="165.0" y="37.3" font-size="10.0" fill="#000" textLength="32.6" lengthAdjust="spacingAndGlyphs" stroke="#000" stroke-width="0.25">6.88240</text>
<text x="201.1" y="37.3" font-size="10.0" fill="#000" textLength="32.6" lengthAdjust="spacingAndGlyphs" stroke="#000" stroke-width="0.25">6.89269</text>
<g shape-rendering="crispEdges">
<rect x="6" y="45" width="52" height="24" fill="url(#gtab)"/>
<rect x="6" y="45" width="52" height="1" fill="#C61A1A"/>
<rect x="6" y="45" width="1" height="24" fill="#C61A1A"/>
<rect x="57" y="45" width="1" height="24" fill="#C61A1A"/>
<rect x="6" y="69" width="109" height="40" fill="url(#gpan)"/>
<rect x="58" y="69" width="57" height="1" fill="#C61A1A"/>
<rect x="10" y="68" width="44" height="1" fill="#A00808"/>
<rect x="10" y="69" width="44" height="1" fill="#F46060"/>
<rect x="173" y="45" width="52" height="24" fill="url(#gtab)"/>
<rect x="173" y="45" width="52" height="1" fill="#C61A1A"/>
<rect x="173" y="45" width="1" height="24" fill="#C61A1A"/>
<rect x="224" y="45" width="1" height="24" fill="#C61A1A"/>
<rect x="117" y="69" width="108" height="40" fill="url(#gpan)"/>
<rect x="117" y="69" width="57" height="1" fill="#C61A1A"/>
<rect x="177" y="68" width="44" height="1" fill="#A00808"/>
<rect x="177" y="69" width="44" height="1" fill="#F46060"/>
<rect x="60" y="45" width="111" height="22" fill="#ffffff" stroke="none"/>
<rect x="60" y="45" width="111" height="1" fill="#A9ABB3"/>
<rect x="60" y="66" width="111" height="1" fill="#A9ABB3"/>
<rect x="60" y="45" width="1" height="22" fill="#A9ABB3"/>
<rect x="170" y="45" width="1" height="22" fill="#A9ABB3"/>
<rect x="61" y="46" width="20" height="20" fill="#f4f4f4"/>
<rect x="62" y="47" width="18" height="18" fill="url(#gbtn)"/>
<rect x="81" y="46" width="1" height="20" fill="#A9ABB3"/>
<rect x="150" y="46" width="20" height="20" fill="#f4f4f4"/>
<rect x="151" y="47" width="18" height="18" fill="url(#gbtn)"/>
<rect x="149" y="46" width="1" height="20" fill="#A9ABB3"/>
</g>
<polygon points="68,54.5 73.5,54.5 70.75,57.5" fill="#4A60C0"/>
<polygon points="156.5,57.5 162,57.5 159.25,54.5" fill="#4A60C0"/>
<text x="18.3" y="61" font-size="12" fill="#ffffff" textLength="25.7" lengthAdjust="spacingAndGlyphs" >SELL</text>
<text x="186.9" y="61" font-size="12" fill="#ffffff" textLength="22.5" lengthAdjust="spacingAndGlyphs" >BUY</text>
<text x="122.7" y="60" font-size="12" fill="#000" textLength="23.3" lengthAdjust="spacingAndGlyphs" >1.00</text>
<text x="25.9" y="100" font-size="11" fill="#fff" textLength="23.8" lengthAdjust="spacingAndGlyphs" font-weight="bold" >6.89</text>
<text x="54.0" y="100" font-size="35" fill="#fff" textLength="34.3" lengthAdjust="spacingAndGlyphs" stroke="url(#gpu)" stroke-width="0.6">26</text>
<text x="93" y="83.7" font-size="11" fill="#fff" textLength="6.4" lengthAdjust="spacingAndGlyphs" font-weight="bold" >9</text>
<text x="135.9" y="100" font-size="11" fill="#fff" textLength="23.8" lengthAdjust="spacingAndGlyphs" font-weight="bold" >6.89</text>
<text x="163.5" y="100" font-size="35" fill="#fff" textLength="35.2" lengthAdjust="spacingAndGlyphs" stroke="url(#gpu)" stroke-width="0.6">49</text>
<text x="203.8" y="83.7" font-size="11" fill="#fff" textLength="7.2" lengthAdjust="spacingAndGlyphs" font-weight="bold" >6</text>
<g shape-rendering="crispEdges" fill="#000">
<rect x="1419" y="33" width="2" height="1"/>
<rect x="1419" y="66" width="2" height="1"/>
<rect x="1419" y="99" width="2" height="1"/>
<rect x="1419" y="132" width="2" height="1"/>
<rect x="1419" y="165" width="2" height="1"/>
<rect x="1419" y="198" width="2" height="1"/>
<rect x="1419" y="231" width="2" height="1"/>
<rect x="1419" y="264" width="2" height="1"/>
<rect x="1419" y="297" width="2" height="1"/>
<rect x="1419" y="330" width="2" height="1"/>
<rect x="1419" y="363" width="2" height="1"/>
<rect x="1419" y="396" width="2" height="1"/>
<rect x="1419" y="429" width="2" height="1"/>
<rect x="1419" y="462" width="2" height="1"/>
<rect x="1419" y="495" width="2" height="1"/>
<rect x="1419" y="528" width="2" height="1"/>
<rect x="1419" y="561" width="2" height="1"/>
</g>
<text x="1424.2" y="37" font-size="10.0" fill="#000" textLength="32.2" lengthAdjust="spacingAndGlyphs" stroke="#000" stroke-width="0.25">6.97200</text>
<text x="1424.2" y="70" font-size="10.0" fill="#000" textLength="32.2" lengthAdjust="spacingAndGlyphs" stroke="#000" stroke-width="0.25">6.95275</text>
<text x="1424.2" y="103" font-size="10.0" fill="#000" textLength="32.2" lengthAdjust="spacingAndGlyphs" stroke="#000" stroke-width="0.25">6.93295</text>
<text x="1424.2" y="136" font-size="10.0" fill="#000" textLength="32.2" lengthAdjust="spacingAndGlyphs" stroke="#000" stroke-width="0.25">6.91370</text>
<text x="1424.2" y="169" font-size="10.0" fill="#000" textLength="32.2" lengthAdjust="spacingAndGlyphs" stroke="#000" stroke-width="0.25">6.89445</text>
<text x="1424.2" y="202" font-size="10.0" fill="#000" textLength="32.2" lengthAdjust="spacingAndGlyphs" stroke="#000" stroke-width="0.25">6.87520</text>
<text x="1424.2" y="235" font-size="10.0" fill="#000" textLength="32.2" lengthAdjust="spacingAndGlyphs" stroke="#000" stroke-width="0.25">6.85595</text>
<text x="1424.2" y="268" font-size="10.0" fill="#000" textLength="32.2" lengthAdjust="spacingAndGlyphs" stroke="#000" stroke-width="0.25">6.83670</text>
<text x="1424.2" y="301" font-size="10.0" fill="#000" textLength="32.2" lengthAdjust="spacingAndGlyphs" stroke="#000" stroke-width="0.25">6.81745</text>
<text x="1424.2" y="334" font-size="10.0" fill="#000" textLength="32.2" lengthAdjust="spacingAndGlyphs" stroke="#000" stroke-width="0.25">6.79820</text>
<text x="1424.2" y="367" font-size="10.0" fill="#000" textLength="32.2" lengthAdjust="spacingAndGlyphs" stroke="#000" stroke-width="0.25">6.77895</text>
<text x="1424.2" y="400" font-size="10.0" fill="#000" textLength="32.2" lengthAdjust="spacingAndGlyphs" stroke="#000" stroke-width="0.25">6.75970</text>
<text x="1424.2" y="433" font-size="10.0" fill="#000" textLength="32.2" lengthAdjust="spacingAndGlyphs" stroke="#000" stroke-width="0.25">6.74045</text>
<text x="1424.2" y="466" font-size="10.0" fill="#000" textLength="32.2" lengthAdjust="spacingAndGlyphs" stroke="#000" stroke-width="0.25">6.72120</text>
<text x="1424.2" y="499" font-size="10.0" fill="#000" textLength="32.2" lengthAdjust="spacingAndGlyphs" stroke="#000" stroke-width="0.25">6.70195</text>
<text x="1424.2" y="532" font-size="10.0" fill="#000" textLength="32.2" lengthAdjust="spacingAndGlyphs" stroke="#000" stroke-width="0.25">6.68270</text>
<text x="1424.2" y="565" font-size="10.0" fill="#000" textLength="32.2" lengthAdjust="spacingAndGlyphs" stroke="#000" stroke-width="0.25">6.66345</text>
<rect x="1420" y="163" width="41" height="11" fill="#000" shape-rendering="crispEdges"/>
<text x="1424.2" y="172" font-size="10.0" fill="#fff" textLength="32.2" lengthAdjust="spacingAndGlyphs" >6.89269</text>
<g shape-rendering="crispEdges">
<rect x="3" y="635" width="1" height="27" fill="#bbbbbb"/>
<rect x="18" y="635" width="2" height="26" fill="#bbbbbb"/>
<rect x="34" y="635" width="2" height="23" fill="#bbbbbb"/>
<rect x="50" y="635" width="2" height="19" fill="#bbbbbb"/>
<rect x="66" y="635" width="2" height="17" fill="#bbbbbb"/>
<rect x="82" y="635" width="2" height="17" fill="#bbbbbb"/>
<rect x="98" y="635" width="2" height="17" fill="#bbbbbb"/>
<rect x="114" y="635" width="2" height="16" fill="#bbbbbb"/>
<rect x="130" y="635" width="2" height="16" fill="#bbbbbb"/>
<rect x="146" y="635" width="2" height="13" fill="#bbbbbb"/>
<rect x="162" y="635" width="2" height="12" fill="#bbbbbb"/>
<rect x="178" y="635" width="2" height="14" fill="#bbbbbb"/>
<rect x="194" y="635" width="2" height="15" fill="#bbbbbb"/>
<rect x="210" y="635" width="2" height="12" fill="#bbbbbb"/>
<rect x="226" y="635" width="2" height="11" fill="#bbbbbb"/>
<rect x="242" y="635" width="2" height="9" fill="#bbbbbb"/>
<rect x="258" y="635" width="2" height="7" fill="#bbbbbb"/>
<rect x="274" y="635" width="2" height="5" fill="#bbbbbb"/>
<rect x="290" y="635" width="2" height="5" fill="#bbbbbb"/>
<rect x="306" y="635" width="2" height="4" fill="#bbbbbb"/>
<rect x="322" y="635" width="2" height="3" fill="#bbbbbb"/>
<rect x="338" y="635" width="2" height="4" fill="#bbbbbb"/>
<rect x="354" y="635" width="2" height="5" fill="#bbbbbb"/>
<rect x="370" y="635" width="2" height="4" fill="#bbbbbb"/>
<rect x="386" y="635" width="2" height="4" fill="#bbbbbb"/>
<rect x="402" y="635" width="2" height="4" fill="#bbbbbb"/>
<rect x="418" y="635" width="2" height="4" fill="#bbbbbb"/>
<rect x="434" y="635" width="2" height="4" fill="#bbbbbb"/>
<rect x="450" y="635" width="2" height="5" fill="#bbbbbb"/>
<rect x="466" y="635" width="2" height="5" fill="#bbbbbb"/>
<rect x="482" y="635" width="2" height="5" fill="#bbbbbb"/>
<rect x="498" y="635" width="2" height="7" fill="#bbbbbb"/>
<rect x="514" y="635" width="2" height="7" fill="#bbbbbb"/>
<rect x="530" y="635" width="2" height="7" fill="#bbbbbb"/>
<rect x="546" y="635" width="2" height="5" fill="#bbbbbb"/>
<rect x="562" y="635" width="2" height="2" fill="#bbbbbb"/>
<rect x="578" y="634" width="2" height="1" fill="#bbbbbb"/>
<rect x="594" y="633" width="2" height="2" fill="#bbbbbb"/>
<rect x="610" y="632" width="2" height="3" fill="#bbbbbb"/>
<rect x="626" y="631" width="2" height="4" fill="#bbbbbb"/>
<rect x="642" y="631" width="2" height="4" fill="#bbbbbb"/>
<rect x="658" y="629" width="2" height="6" fill="#bbbbbb"/>
<rect x="674" y="629" width="2" height="6" fill="#bbbbbb"/>
<rect x="690" y="625" width="2" height="10" fill="#bbbbbb"/>
<rect x="706" y="621" width="2" height="14" fill="#bbbbbb"/>
<rect x="722" y="617" width="2" height="18" fill="#bbbbbb"/>
<rect x="738" y="611" width="2" height="24" fill="#bbbbbb"/>
<rect x="754" y="605" width="2" height="30" fill="#bbbbbb"/>
<rect x="770" y="595" width="2" height="40" fill="#bbbbbb"/>
<rect x="786" y="589" width="2" height="46" fill="#bbbbbb"/>
<rect x="802" y="585" width="2" height="50" fill="#bbbbbb"/>
<rect x="818" y="579" width="2" height="56" fill="#bbbbbb"/>
<rect x="834" y="575" width="2" height="60" fill="#bbbbbb"/>
<rect x="850" y="573" width="2" height="62" fill="#bbbbbb"/>
<rect x="866" y="572" width="2" height="63" fill="#bbbbbb"/>
<rect x="882" y="572" width="2" height="63" fill="#bbbbbb"/>
<rect x="898" y="573" width="2" height="62" fill="#bbbbbb"/>
<rect x="914" y="576" width="2" height="59" fill="#bbbbbb"/>
<rect x="930" y="580" width="2" height="55" fill="#bbbbbb"/>
<rect x="946" y="582" width="2" height="53" fill="#bbbbbb"/>
<rect x="962" y="584" width="2" height="51" fill="#bbbbbb"/>
<rect x="978" y="585" width="2" height="50" fill="#bbbbbb"/>
<rect x="994" y="587" width="2" height="48" fill="#bbbbbb"/>
<rect x="1010" y="590" width="2" height="45" fill="#bbbbbb"/>
<rect x="1026" y="593" width="2" height="42" fill="#bbbbbb"/>
<rect x="1042" y="595" width="2" height="40" fill="#bbbbbb"/>
<rect x="1058" y="597" width="2" height="38" fill="#bbbbbb"/>
<rect x="1074" y="598" width="2" height="37" fill="#bbbbbb"/>
<rect x="1090" y="599" width="2" height="36" fill="#bbbbbb"/>
<rect x="1106" y="601" width="2" height="34" fill="#bbbbbb"/>
<rect x="1122" y="604" width="2" height="31" fill="#bbbbbb"/>
<rect x="1138" y="606" width="2" height="29" fill="#bbbbbb"/>
<rect x="1154" y="607" width="2" height="28" fill="#bbbbbb"/>
<rect x="1170" y="609" width="2" height="26" fill="#bbbbbb"/>
<rect x="1186" y="614" width="2" height="21" fill="#bbbbbb"/>
<rect x="1202" y="619" width="2" height="16" fill="#bbbbbb"/>
<rect x="1218" y="622" width="2" height="13" fill="#bbbbbb"/>
<path d="M892 580h2v1h-2zM999 580h3v1h-3zM1005 580h2v1h-2zM742 624h2v1h-2zM381 639h3v1h-3zM387 639h3v1h-3zM393 639h3v1h-3zM399 639h3v1h-3zM405 639h3v1h-3zM411 639h3v1h-3zM417 639h3v1h-3zM423 639h3v1h-3zM429 639h3v1h-3zM435 639h3v1h-3zM441 639h3v1h-3zM447 639h3v1h-3zM453 639h3v1h-3zM459 639h3v1h-3zM465 639h3v1h-3zM471 639h3v1h-3zM477 639h3v1h-3zM483 639h3v1h-3zM489 639h3v1h-3zM495 639h3v1h-3zM501 639h3v1h-3zM573 639h3v1h-3zM579 639h3v1h-3zM585 639h3v1h-3zM591 639h3v1h-3zM597 639h3v1h-3zM76 659h2v1h-2zM81 659h3v1h-3zM681 632h3v1h-3zM1119 595h2v1h-2zM604 638h2v1h-2zM609 638h3v1h-3zM615 638h3v1h-3zM861 589h2v1h-2zM1071 589h3v1h-3zM1077 589h2v1h-2zM237 647h3v1h-3zM243 647h3v1h-3zM249 647h3v1h-3zM927 576h3v1h-3zM933 576h3v1h-3zM939 576h3v1h-3zM945 576h3v1h-3zM951 576h3v1h-3zM957 576h3v1h-3zM963 576h3v1h-3zM904 578h2v1h-2zM909 578h3v1h-3zM975 578h3v1h-3zM981 578h3v1h-3zM832 598h2v1h-2zM1137 598h3v1h-3zM333 641h3v1h-3zM339 641h3v1h-3zM345 641h3v1h-3zM351 641h3v1h-3zM357 641h3v1h-3zM3 663h3v1h-3zM9 663h2v1h-2zM45 663h3v1h-3zM51 663h3v1h-3zM189 650h3v1h-3zM195 650h3v1h-3zM201 650h3v1h-3zM141 653h3v1h-3zM147 653h3v1h-3zM856 590h2v1h-2zM1083 590h3v1h-3zM915 577h3v1h-3zM921 577h3v1h-3zM969 577h3v1h-3zM99 657h3v1h-3zM105 657h3v1h-3zM897 579h3v1h-3zM987 579h3v1h-3zM993 579h3v1h-3zM364 640h2v1h-2zM369 640h3v1h-3zM375 640h3v1h-3zM507 640h3v1h-3zM513 640h3v1h-3zM519 640h3v1h-3zM525 640h3v1h-3zM531 640h3v1h-3zM537 640h3v1h-3zM543 640h3v1h-3zM549 640h3v1h-3zM555 640h3v1h-3zM561 640h3v1h-3zM567 640h3v1h-3zM699 630h3v1h-3zM826 600h2v1h-2zM1155 600h3v1h-3zM736 625h2v1h-2zM1143 599h3v1h-3zM1149 599h2v1h-2zM844 594h2v1h-2zM1113 594h2v1h-2zM621 637h3v1h-3zM627 637h3v1h-3zM220 648h2v1h-2zM225 648h3v1h-3zM231 648h3v1h-3zM705 629h3v1h-3zM879 583h3v1h-3zM1023 583h3v1h-3zM795 611h3v1h-3zM255 646h3v1h-3zM261 646h3v1h-3zM267 646h3v1h-3zM273 646h3v1h-3zM279 646h3v1h-3zM123 655h3v1h-3zM1089 591h3v1h-3zM1107 593h3v1h-3zM867 587h2v1h-2zM1053 587h3v1h-3zM1059 587h3v1h-3zM88 658h2v1h-2zM93 658h3v1h-3zM303 644h3v1h-3zM309 644h3v1h-3zM111 656h3v1h-3zM117 656h3v1h-3zM886 581h2v1h-2zM1011 581h3v1h-3zM783 614h3v1h-3zM633 636h3v1h-3zM729 626h3v1h-3zM15 664h3v1h-3zM21 664h3v1h-3zM27 664h3v1h-3zM33 664h3v1h-3zM39 664h3v1h-3zM160 651h2v1h-2zM165 651h3v1h-3zM171 651h3v1h-3zM177 651h3v1h-3zM183 651h3v1h-3zM1185 604h3v1h-3zM207 649h3v1h-3zM213 649h3v1h-3zM669 633h3v1h-3zM675 633h3v1h-3zM819 603h2v1h-2zM1179 603h3v1h-3zM1131 597h3v1h-3zM712 628h2v1h-2zM717 628h3v1h-3zM1041 586h3v1h-3zM1047 586h3v1h-3zM1065 588h3v1h-3zM652 634h2v1h-2zM657 634h3v1h-3zM663 634h3v1h-3zM873 585h3v1h-3zM1035 585h3v1h-3zM285 645h3v1h-3zM291 645h3v1h-3zM297 645h3v1h-3zM640 635h2v1h-2zM645 635h3v1h-3zM63 661h2v1h-2zM315 643h3v1h-3zM153 652h3v1h-3zM723 627h3v1h-3zM802 609h2v1h-2zM1215 608h2v1h-2zM777 616h3v1h-3zM759 621h3v1h-3zM813 605h3v1h-3zM1191 605h3v1h-3zM1197 605h2v1h-2zM688 631h2v1h-2zM693 631h3v1h-3zM790 612h2v1h-2zM850 592h2v1h-2zM1095 592h3v1h-3zM1101 592h2v1h-2zM321 642h3v1h-3zM327 642h3v1h-3zM1167 602h3v1h-3zM1173 602h2v1h-2zM69 660h3v1h-3zM808 607h2v1h-2zM1209 607h2v1h-2zM1161 601h3v1h-3zM1030 584h2v1h-2zM766 619h2v1h-2zM129 654h3v1h-3zM135 654h3v1h-3zM753 622h3v1h-3zM1203 606h3v1h-3zM837 596h3v1h-3zM1125 596h2v1h-2zM1017 582h3v1h-3zM771 618h2v1h-2zM57 662h3v1h-3zM748 623h2v1h-2zM747 624h1v1h-1zM603 639h1v1h-1zM87 659h1v1h-1zM687 632h1v1h-1zM843 595h1v1h-1zM1115 595h1v1h-1zM363 641h1v1h-1zM1079 590h1v1h-1zM903 579h1v1h-1zM1151 600h1v1h-1zM741 625h1v1h-1zM831 599h1v1h-1zM711 629h1v1h-1zM1029 583h1v1h-1zM855 591h1v1h-1zM849 593h1v1h-1zM1103 593h1v1h-1zM891 581h1v1h-1zM1007 581h1v1h-1zM639 636h1v1h-1zM735 626h1v1h-1zM11 664h1v1h-1zM219 649h1v1h-1zM1175 603h1v1h-1zM1127 597h1v1h-1zM869 586h1v1h-1zM863 588h1v1h-1zM651 635h1v1h-1zM159 652h1v1h-1zM1217 609h1v1h-1zM807 608h1v1h-1zM1211 608h1v1h-1zM821 602h1v1h-1zM65 660h1v1h-1zM75 660h1v1h-1zM825 601h1v1h-1zM1199 606h1v1h-1zM1121 596h1v1h-1zM885 582h1v1h-1zM765 620h1v1h-1zM801 610h1v1h-1zM789 613h1v1h-1zM773 617h1v1h-1z" fill="#FF0000"/>
<rect x="1419" y="566" width="2" height="1" fill="#000"/>
<rect x="1419" y="635" width="2" height="1" fill="#000"/>
<rect x="1419" y="669" width="2" height="1" fill="#000"/>
</g>
<text x="7.6" y="578.8" font-size="10.0" fill="#000" textLength="65.9" lengthAdjust="spacingAndGlyphs" stroke="#000" stroke-width="0.25">MACD(12,26,9)</text>
<text x="76.2" y="578.8" font-size="10.0" fill="#000" textLength="37.2" lengthAdjust="spacingAndGlyphs" stroke="#000" stroke-width="0.25">0.011784</text>
<text x="117.4" y="578.8" font-size="10.0" fill="#000" textLength="37.3" lengthAdjust="spacingAndGlyphs" stroke="#000" stroke-width="0.25">0.023280</text>
<text x="1422.4" y="577" font-size="10.0" fill="#000" textLength="27.3" lengthAdjust="spacingAndGlyphs" stroke="#000" stroke-width="0.25">0.0598</text>
<text x="1422.4" y="639" font-size="10.0" fill="#000" textLength="17.5" lengthAdjust="spacingAndGlyphs" stroke="#000" stroke-width="0.25">0.00</text>
<text x="1422.8" y="666" font-size="10.0" fill="#000" textLength="41.5" lengthAdjust="spacingAndGlyphs" stroke="#000" stroke-width="0.25">-0.029049</text>
<g shape-rendering="crispEdges">
<line x1="4" y1="711.5" x2="1418" y2="711.5" stroke="#c0c0c0" stroke-width="1" stroke-dasharray="3 3"/>
<line x1="4" y1="762.5" x2="1418" y2="762.5" stroke="#c0c0c0" stroke-width="1" stroke-dasharray="3 3"/>
<path d="M23 743h2v1h-2zM77 743h2v1h-2zM109 743h2v1h-2zM129 743h5v1h-5zM193 743h2v1h-2zM369 743h4v1h-4zM451 743h8v1h-8zM469 743h3v1h-3zM487 743h2v1h-2zM512 743h2v1h-2zM720 711h5v1h-5zM911 711h3v1h-3zM952 711h8v1h-8zM996 711h2v1h-2zM1074 711h18v1h-18zM30 740h2v1h-2zM69 740h2v1h-2zM115 740h3v1h-3zM145 740h10v1h-10zM200 740h2v1h-2zM225 740h5v1h-5zM335 740h3v1h-3zM348 740h10v1h-10zM380 740h3v1h-3zM445 740h2v1h-2zM479 740h3v1h-3zM518 740h4v1h-4zM1187 740h8v1h-8zM769 695h2v1h-2zM773 695h3v1h-3zM828 695h9v1h-9zM568 727h4v1h-4zM587 727h4v1h-4zM656 727h2v1h-2zM661 727h3v1h-3zM1132 720h16v1h-16zM1159 720h8v1h-8zM696 714h8v1h-8zM927 714h9v1h-9zM1002 714h2v1h-2zM1062 714h4v1h-4zM1095 714h2v1h-2zM1102 719h2v1h-2zM1148 719h11v1h-11zM32 739h2v1h-2zM43 739h26v1h-26zM202 739h3v1h-3zM221 739h4v1h-4zM230 739h6v1h-6zM331 739h4v1h-4zM383 739h3v1h-3zM443 739h2v1h-2zM482 739h2v1h-2zM522 739h4v1h-4zM6 748h4v1h-4zM97 748h4v1h-4zM185 748h2v1h-2zM248 735h4v1h-4zM282 735h3v1h-3zM430 735h4v1h-4zM436 735h2v1h-2zM536 735h4v1h-4zM28 741h2v1h-2zM71 741h3v1h-3zM113 741h2v1h-2zM118 741h5v1h-5zM140 741h5v1h-5zM155 741h9v1h-9zM197 741h3v1h-3zM338 741h10v1h-10zM358 741h5v1h-5zM376 741h4v1h-4zM447 741h2v1h-2zM476 741h3v1h-3zM515 741h3v1h-3zM1195 741h25v1h-25zM34 738h9v1h-9zM205 738h3v1h-3zM217 738h4v1h-4zM236 738h5v1h-5zM290 738h22v1h-22zM328 738h3v1h-3zM386 738h36v1h-36zM526 738h4v1h-4zM727 709h2v1h-2zM906 709h3v1h-3zM968 709h8v1h-8zM983 709h8v1h-8zM575 725h3v1h-3zM581 725h3v1h-3zM1010 718h10v1h-10zM691 715h5v1h-5zM1004 715h2v1h-2zM1040 715h22v1h-22zM732 707h2v1h-2zM901 707h2v1h-2zM763 698h2v1h-2zM783 698h3v1h-3zM806 698h6v1h-6zM843 698h4v1h-4zM255 733h3v1h-3zM277 733h2v1h-2zM543 733h3v1h-3zM641 733h4v1h-4zM1006 716h2v1h-2zM1032 716h8v1h-8zM561 729h4v1h-4zM594 729h35v1h-35zM652 729h2v1h-2zM667 729h4v1h-4zM767 696h2v1h-2zM776 696h3v1h-3zM817 696h11v1h-11zM837 696h3v1h-3zM21 744h2v1h-2zM79 744h3v1h-3zM107 744h2v1h-2zM167 744h2v1h-2zM459 744h10v1h-10zM761 699h2v1h-2zM786 699h20v1h-20zM847 699h3v1h-3zM752 702h5v1h-5zM859 702h6v1h-6zM872 702h8v1h-8zM885 702h3v1h-3zM10 747h4v1h-4zM91 747h6v1h-6zM101 747h2v1h-2zM171 747h2v1h-2zM556 730h5v1h-5zM629 730h4v1h-4zM649 730h3v1h-3zM671 730h3v1h-3zM744 703h8v1h-8zM865 703h7v1h-7zM888 703h3v1h-3zM725 710h2v1h-2zM909 710h2v1h-2zM960 710h8v1h-8zM991 710h5v1h-5zM729 708h3v1h-3zM903 708h3v1h-3zM976 708h7v1h-7zM765 697h2v1h-2zM779 697h4v1h-4zM812 697h5v1h-5zM840 697h3v1h-3zM704 713h8v1h-8zM919 713h8v1h-8zM936 713h8v1h-8zM1000 713h2v1h-2zM1066 713h4v1h-4zM182 750h2v1h-2zM495 750h2v1h-2zM1105 721h2v1h-2zM1116 721h16v1h-16zM1167 721h5v1h-5zM208 737h2v1h-2zM213 737h4v1h-4zM241 737h4v1h-4zM287 737h3v1h-3zM312 737h8v1h-8zM325 737h3v1h-3zM422 737h4v1h-4zM440 737h2v1h-2zM530 737h3v1h-3zM1107 722h9v1h-9zM18 745h3v1h-3zM82 745h4v1h-4zM105 745h2v1h-2zM190 745h2v1h-2zM25 742h3v1h-3zM74 742h3v1h-3zM111 742h2v1h-2zM123 742h6v1h-6zM134 742h6v1h-6zM164 742h2v1h-2zM195 742h2v1h-2zM363 742h6v1h-6zM373 742h3v1h-3zM449 742h2v1h-2zM472 742h4v1h-4zM500 752h2v1h-2zM712 712h8v1h-8zM914 712h5v1h-5zM944 712h8v1h-8zM998 712h2v1h-2zM1070 712h4v1h-4zM1092 712h2v1h-2zM565 728h3v1h-3zM591 728h3v1h-3zM654 728h2v1h-2zM664 728h3v1h-3zM550 731h6v1h-6zM633 731h4v1h-4zM647 731h2v1h-2zM674 731h2v1h-2zM757 701h2v1h-2zM854 701h5v1h-5zM880 701h5v1h-5zM14 746h4v1h-4zM86 746h5v1h-5zM103 746h2v1h-2zM188 746h2v1h-2zM508 746h2v1h-2zM1008 717h2v1h-2zM1020 717h12v1h-12zM1099 717h2v1h-2zM738 704h6v1h-6zM891 704h4v1h-4zM258 732h19v1h-19zM546 732h4v1h-4zM637 732h4v1h-4zM645 732h2v1h-2zM3 749h3v1h-3zM174 749h2v1h-2zM504 749h2v1h-2zM210 736h3v1h-3zM245 736h3v1h-3zM285 736h2v1h-2zM320 736h5v1h-5zM426 736h4v1h-4zM438 736h2v1h-2zM533 736h3v1h-3zM578 724h3v1h-3zM759 700h2v1h-2zM850 700h4v1h-4zM252 734h3v1h-3zM279 734h3v1h-3zM434 734h2v1h-2zM540 734h3v1h-3zM572 726h3v1h-3zM584 726h3v1h-3zM658 726h3v1h-3zM736 705h2v1h-2zM895 705h3v1h-3zM734 706h2v1h-2zM898 706h3v1h-3zM177 751h2v1h-2zM180 751h2v1h-2zM771 694h2v1h-2zM166 743h1v1h-1zM484 740h1v1h-1zM679 727h1v1h-1zM1176 727h1v1h-1zM686 720h1v1h-1zM1104 720h1v1h-1zM687 719h1v1h-1zM1186 739h1v1h-1zM173 748h1v1h-1zM493 748h1v1h-1zM506 748h1v1h-1zM1183 735h1v1h-1zM485 741h1v1h-1zM442 738h1v1h-1zM1185 738h1v1h-1zM681 725h1v1h-1zM1174 724h1v2h-1zM499 753h1v1h-1zM688 718h1v1h-1zM1101 718h1v1h-1zM1097 715h1v1h-1zM1181 733h1v1h-1zM690 716h1v1h-1zM1098 716h1v1h-1zM677 729h1v1h-1zM1178 729h1v1h-1zM192 744h1v1h-1zM489 744h1v1h-1zM511 744h1v1h-1zM187 747h1v1h-1zM492 747h1v1h-1zM507 747h1v1h-1zM676 730h1v1h-1zM1179 730h1v2h-1zM1094 713h1v1h-1zM176 750h1v1h-1zM503 750h1v1h-1zM685 721h1v1h-1zM1184 736h1v2h-1zM684 722h1v1h-1zM1172 722h1v1h-1zM169 745h1v1h-1zM490 745h1v1h-1zM510 745h1v1h-1zM486 742h1v1h-1zM514 742h1v1h-1zM179 752h1v1h-1zM498 752h1v1h-1zM678 728h1v1h-1zM1177 728h1v1h-1zM170 746h1v1h-1zM491 746h1v1h-1zM689 717h1v1h-1zM1180 732h1v1h-1zM184 749h1v1h-1zM494 749h1v1h-1zM682 724h1v1h-1zM1182 734h1v1h-1zM680 726h1v1h-1zM1175 726h1v1h-1zM497 751h1v1h-1zM502 751h1v1h-1zM683 723h1v1h-1zM1173 723h1v1h-1z" fill="#1E90FF"/>
<rect x="1419" y="671" width="2" height="1" fill="#000"/>
<rect x="1419" y="801" width="2" height="1" fill="#000"/>
<polygon points="3,796 3,801 8,801" fill="#c0c0c0"/>
</g>
<text x="7.6" y="683.8" font-size="10.0" fill="#000" textLength="30.8" lengthAdjust="spacingAndGlyphs" stroke="#000" stroke-width="0.25">RSI(14)</text>
<text x="42.1" y="683.8" font-size="10.0" fill="#000" textLength="32.6" lengthAdjust="spacingAndGlyphs" stroke="#000" stroke-width="0.25">46.6453</text>
<text x="1422.4" y="682" font-size="10.0" fill="#000" textLength="14.3" lengthAdjust="spacingAndGlyphs" stroke="#000" stroke-width="0.25">100</text>
<text x="1421.4" y="715" font-size="10.0" fill="#000" textLength="9.2" lengthAdjust="spacingAndGlyphs" stroke="#000" stroke-width="0.25">70</text>
<text x="1421.4" y="766" font-size="10.0" fill="#000" textLength="9.2" lengthAdjust="spacingAndGlyphs" stroke="#000" stroke-width="0.25">30</text>
<text x="1422.2" y="798" font-size="10.0" fill="#000" textLength="5" lengthAdjust="spacingAndGlyphs" stroke="#000" stroke-width="0.25">0</text>
<g shape-rendering="crispEdges" fill="#000">
<rect x="3" y="802" width="1" height="3"/>
<rect x="67" y="802" width="1" height="3"/>
<rect x="131" y="802" width="1" height="3"/>
<rect x="195" y="802" width="1" height="3"/>
<rect x="259" y="802" width="1" height="3"/>
<rect x="323" y="802" width="1" height="3"/>
<rect x="387" y="802" width="1" height="3"/>
<rect x="451" y="802" width="1" height="3"/>
<rect x="515" y="802" width="1" height="3"/>
<rect x="579" y="802" width="1" height="3"/>
<rect x="643" y="802" width="1" height="3"/>
<rect x="707" y="802" width="1" height="3"/>
<rect x="771" y="802" width="1" height="3"/>
<rect x="835" y="802" width="1" height="3"/>
<rect x="899" y="802" width="1" height="3"/>
<rect x="963" y="802" width="1" height="3"/>
<rect x="1027" y="802" width="1" height="3"/>
<rect x="1091" y="802" width="1" height="3"/>
<rect x="1155" y="802" width="1" height="3"/>
<rect x="1219" y="802" width="1" height="3"/>
</g>
<text x="2.0" y="814" font-size="10.0" fill="#000" textLength="46.8" lengthAdjust="spacingAndGlyphs" stroke="#000" stroke-width="0.25">5 Mar 2019</text>
<text x="66.5" y="814" font-size="10.0" fill="#000" textLength="51.4" lengthAdjust="spacingAndGlyphs" stroke="#000" stroke-width="0.25">11 Mar 2019</text>
<text x="130.5" y="814" font-size="10.0" fill="#000" textLength="51.4" lengthAdjust="spacingAndGlyphs" stroke="#000" stroke-width="0.25">15 Mar 2019</text>
<text x="194.5" y="814" font-size="10.0" fill="#000" textLength="51.4" lengthAdjust="spacingAndGlyphs" stroke="#000" stroke-width="0.25">21 Mar 2019</text>
<text x="258.5" y="814" font-size="10.0" fill="#000" textLength="51.4" lengthAdjust="spacingAndGlyphs" stroke="#000" stroke-width="0.25">27 Mar 2019</text>
<text x="322.5" y="814" font-size="10.0" fill="#000" textLength="45.6" lengthAdjust="spacingAndGlyphs" stroke="#000" stroke-width="0.25">2 Apr 2019</text>
<text x="386.5" y="814" font-size="10.0" fill="#000" textLength="45.6" lengthAdjust="spacingAndGlyphs" stroke="#000" stroke-width="0.25">8 Apr 2019</text>
<text x="450.5" y="814" font-size="10.0" fill="#000" textLength="50.2" lengthAdjust="spacingAndGlyphs" stroke="#000" stroke-width="0.25">12 Apr 2019</text>
<text x="514.5" y="814" font-size="10.0" fill="#000" textLength="50.2" lengthAdjust="spacingAndGlyphs" stroke="#000" stroke-width="0.25">18 Apr 2019</text>
<text x="578.5" y="814" font-size="10.0" fill="#000" textLength="50.2" lengthAdjust="spacingAndGlyphs" stroke="#000" stroke-width="0.25">25 Apr 2019</text>
<text x="642.5" y="814" font-size="10.0" fill="#000" textLength="49.0" lengthAdjust="spacingAndGlyphs" stroke="#000" stroke-width="0.25">1 May 2019</text>
<text x="706.5" y="814" font-size="10.0" fill="#000" textLength="49.0" lengthAdjust="spacingAndGlyphs" stroke="#000" stroke-width="0.25">7 May 2019</text>
<text x="770.5" y="814" font-size="10.0" fill="#000" textLength="53.9" lengthAdjust="spacingAndGlyphs" stroke="#000" stroke-width="0.25">13 May 2019</text>
<text x="834.5" y="814" font-size="10.0" fill="#000" textLength="53.9" lengthAdjust="spacingAndGlyphs" stroke="#000" stroke-width="0.25">17 May 2019</text>
<text x="898.5" y="814" font-size="10.0" fill="#000" textLength="53.9" lengthAdjust="spacingAndGlyphs" stroke="#000" stroke-width="0.25">23 May 2019</text>
<text x="962.5" y="814" font-size="10.0" fill="#000" textLength="53.9" lengthAdjust="spacingAndGlyphs" stroke="#000" stroke-width="0.25">29 May 2019</text>
<text x="1026.5" y="814" font-size="10.0" fill="#000" textLength="44.3" lengthAdjust="spacingAndGlyphs" stroke="#000" stroke-width="0.25">4 Jun 2019</text>
<text x="1090.5" y="814" font-size="10.0" fill="#000" textLength="49.0" lengthAdjust="spacingAndGlyphs" stroke="#000" stroke-width="0.25">10 Jun 2019</text>
<text x="1154.5" y="814" font-size="10.0" fill="#000" textLength="49.0" lengthAdjust="spacingAndGlyphs" stroke="#000" stroke-width="0.25">14 Jun 2019</text>
<text x="1218.5" y="814" font-size="10.0" fill="#000" textLength="49.0" lengthAdjust="spacingAndGlyphs" stroke="#000" stroke-width="0.25">20 Jun 2019</text>
<g shape-rendering="crispEdges">
<rect x="0" y="822" width="1462" height="1" fill="#e6e6e6"/>
<rect x="0" y="825" width="1462" height="23" fill="#f0f0f0"/>
<rect x="0" y="825" width="1462" height="1" fill="#f8f8f8"/>
<rect x="0" y="844" width="1462" height="1" fill="#fdfdfd"/>
<rect x="435" y="825" width="1" height="19" fill="#fafafa"/>
<rect x="436" y="843" width="112" height="1" fill="#fafafa"/>
<rect x="0" y="824" width="1462" height="1" fill="#000"/>
<rect x="436" y="824" width="112" height="19" fill="#fff"/>
<rect x="436" y="824" width="1" height="19" fill="#000"/>
<rect x="547" y="824" width="1" height="19" fill="#000"/>
<rect x="436" y="842" width="112" height="1" fill="#000"/>
<rect x="112" y="828" width="1" height="13" fill="#7a7a7a"/>
<rect x="220" y="828" width="1" height="13" fill="#7a7a7a"/>
<rect x="328" y="828" width="1" height="13" fill="#7a7a7a"/>
<rect x="668" y="828" width="1" height="13" fill="#7a7a7a"/>
</g>
<text x="15.5" y="838.8" font-size="12.3" fill="#6a6a6a" textLength="84.4" lengthAdjust="spacingAndGlyphs" >EURUSD-,Daily</text>
<text x="122.2" y="838.8" font-size="12.3" fill="#6a6a6a" textLength="86.4" lengthAdjust="spacingAndGlyphs" >AUDUSD-,Daily</text>
<text x="232.3" y="838.8" font-size="12.3" fill="#6a6a6a" textLength="83.6" lengthAdjust="spacingAndGlyphs" >USDCHF-,Daily</text>
<text x="339.1" y="838.8" font-size="12.3" fill="#6a6a6a" textLength="85.9" lengthAdjust="spacingAndGlyphs" >USDCAD-,Daily</text>
<text x="448.0" y="838.8" font-size="12.3" fill="#000" textLength="87.8" lengthAdjust="spacingAndGlyphs" >USDCNH-,Daily</text>
<text x="558.5" y="838.8" font-size="12.3" fill="#6a6a6a" textLength="97.2" lengthAdjust="spacingAndGlyphs" >EURCHF-,Weekly</text>
<polygon points="1437,830 1437,836.5 1433.5,833.2" fill="#a0a0a0"/>
<polygon points="1453,830 1453,836.5 1456.5,833.2" fill="#a0a0a0"/>
</svg>
</body></html>
